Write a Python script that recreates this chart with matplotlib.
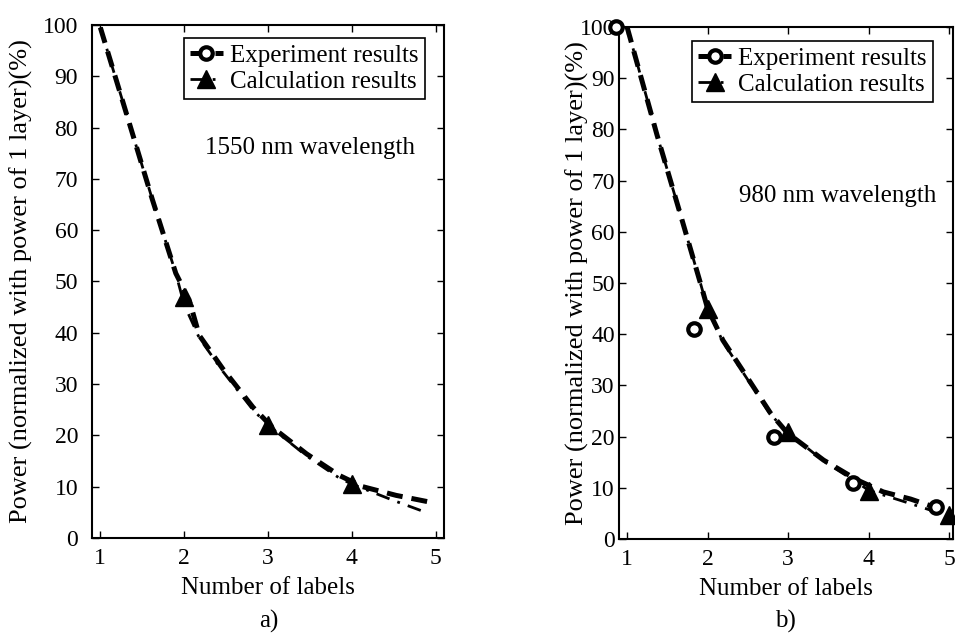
import numpy as np
import matplotlib.pyplot as plt
from matplotlib.lines import Line2D

plt.rcParams['font.family'] = ['Liberation Serif', 'DejaVu Serif']

# a) 1550 nm: curves
x_exp_a = [1.0, 1.38, 1.62, 1.9, 2.06, 2.18, 2.46, 2.82, 3.05, 3.46, 3.85, 4.13, 4.53, 4.93]
y_exp_a = [99.5, 79, 66, 51.6, 46.4, 39.5, 33, 25.5, 21.6, 16.4, 12.2, 10.0, 8.3, 7.0]
x_calc_a = [1.0, 1.38, 1.62, 1.9, 2.0, 2.18, 2.46, 2.82, 3.0, 3.46, 3.85, 4.0, 4.5, 4.9]
y_calc_a = [99.5, 79, 66, 51.6, 45.5, 39, 32.5, 25, 22, 16, 11.7, 10.5, 7.3, 4.9]
pts_x_a = [2, 3, 4]
pts_y_a = [47, 22, 10.5]

# b) 980 nm
x_exp_b = [1.0, 1.37, 1.66, 1.91, 2.0, 2.19, 2.49, 2.78, 2.99, 3.44, 3.86, 4.18, 4.52, 4.93]
y_exp_b = [100, 79, 63.5, 50, 45, 38.8, 31.6, 24.6, 20.7, 15.4, 11.5, 9.2, 7.8, 5.6]
x_calc_b = [1.0, 1.37, 1.66, 1.91, 2.0, 2.19, 2.49, 2.78, 3.0, 3.44, 3.86, 4.0, 4.5, 4.95]
y_calc_b = [100, 79, 63.5, 50, 45, 38.5, 31.3, 24.3, 20.8, 15.2, 11, 9.5, 7.0, 4.7]
circ_x_b = [0.86, 1.83, 2.83, 3.81, 4.83]
circ_y_b = [100, 41, 20, 10.9, 6.3]
tri_x_b = [2, 3, 4, 5]
tri_y_b = [45, 20.8, 9.3, 4.7]

FS = 17
dash = (0, (3.2, 1.8))
dashdot = (0, (5, 3, 1, 3))

fig = plt.figure(figsize=(9.55, 6.35), dpi=100)
axA = fig.add_axes([0.0963, 0.1528, 0.3686, 0.8079])
axB = fig.add_axes([0.6482, 0.1512, 0.350, 0.8063])


def style(ax, xmax, ypad, ylab_x, leg_anchor):
    ax.set_xlim(0.9, xmax)
    ax.set_ylim(0, 100)
    ax.set_xticks([1, 2, 3, 4, 5])
    ax.set_yticks(range(0, 101, 10))
    ax.tick_params(direction='in', top=True, right=True, length=5, width=1,
                   labelsize=FS)
    ax.tick_params(axis='x', pad=7)
    ax.tick_params(axis='y', pad=ypad)
    for s in ax.spines.values():
        s.set_linewidth(1.5)
    ax.set_xlabel('Number of labels', fontsize=18)
    ax.xaxis.set_label_coords(0.5, -0.077)
    ax.set_ylabel('Power (normalized with power of 1 layer)(%)', fontsize=19)
    ax.yaxis.set_label_coords(ylab_x, 0.5)
    handles = [Line2D([], [], color='k', ls=dash, lw=3.6, marker='o', ms=9,
                      mfc='white', mew=3),
               Line2D([], [], color='k', ls=dashdot, lw=2, marker='^', ms=13)]
    leg = ax.legend(handles, ['Experiment results', 'Calculation results'],
                    loc='upper right', bbox_to_anchor=leg_anchor,
                    fontsize=18, handlelength=1.3,
                    handletextpad=0.3, borderpad=0.25, labelspacing=0.15,
                    fancybox=False, framealpha=1, edgecolor='k',
                    borderaxespad=0)
    leg.get_frame().set_linewidth(1.2)


axA.plot(x_exp_a, y_exp_a, color='k', ls=dash, lw=3.6)
axA.plot(x_calc_a, y_calc_a, color='k', ls=dashdot, lw=2)
axA.plot(pts_x_a, pts_y_a, ls='none', marker='^', ms=13, color='k')
style(axA, 5.1, 10, -0.168, (0.946, 0.975))
axA.text(3.5, 76, '1550 nm wavelength', fontsize=18, ha='center', va='center')

axB.plot(x_exp_b, y_exp_b, color='k', ls=dash, lw=3.6)
axB.plot(x_calc_b, y_calc_b, color='k', ls=dashdot, lw=2)
axB.plot(circ_x_b, circ_y_b, ls='none', marker='o', ms=9, mfc='white',
         mec='k', mew=3, clip_on=False, zorder=5)
axB.plot(tri_x_b, tri_y_b, ls='none', marker='^', ms=13, color='k',
         clip_on=False, zorder=5)
style(axB, 5.05, 3, -0.09, (0.94, 0.973))
axB.text(3.62, 67, '980 nm wavelength', fontsize=18, ha='center', va='center')

fig.text(0.281, 0.022, 'a)', fontsize=18, ha='center', va='center')
fig.text(0.823, 0.022, 'b)', fontsize=18, ha='center', va='center')

fig.savefig('out.png', dpi=100)
